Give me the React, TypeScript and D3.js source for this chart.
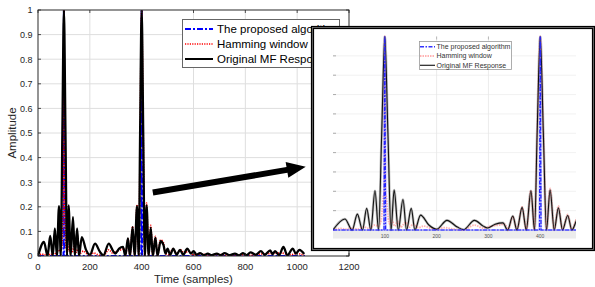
import React from "react";
import * as d3 from "d3";

// ---- data (samples, amplitude) ----
const origX = [0, 23, 37, 47, 57, 65, 73, 81, 88, 94, 100, 106, 112, 118, 126, 135, 142, 151, 158, 169, 185, 200, 220, 240, 252, 273, 290, 298, 313, 328, 337, 347, 355, 365, 373, 382, 389, 394, 400, 406, 412, 419, 427, 435, 443, 453, 461, 473, 484, 492, 500, 510, 522, 535, 548, 560, 576, 590, 600, 612, 625, 640, 655, 670, 690, 705, 720, 740, 760, 775, 790, 805, 820, 840, 860, 875, 896, 905, 915, 930, 947, 962, 983, 995, 1009, 1027];
const origY = [0, 0.057, 0, 0.082, 0, 0.112, 0, 0.203, 0, 0.5, 1, 0.5, 0, 0.206, 0, 0.158, 0, 0.112, 0, 0.077, 0.026, 0.004, 0.05, 0.015, 0.002, 0.05, 0.02, 0.01, 0.03, 0.037, 0, 0.072, 0, 0.117, 0, 0.203, 0, 0.5, 1, 0.5, 0, 0.206, 0, 0.115, 0, 0.075, 0, 0.06, 0.045, 0.01, 0.03, 0.005, 0.03, 0.005, 0.025, 0.005, 0.03, 0.01, 0.02, 0.005, 0.012, 0.003, 0.01, 0.003, 0.01, 0.003, 0.012, 0.003, 0.01, 0.002, 0.012, 0.003, 0.015, 0.005, 0.02, 0.005, 0.023, 0.008, 0.02, 0.003, 0.037, 0.003, 0.03, 0.01, 0.025, 0.008];

const hamX = [0, 15, 25, 35, 48, 60, 70, 80, 88, 93, 97, 99, 100, 101, 103, 107, 110, 114, 119, 125, 131, 140, 147, 155, 165, 175, 190, 200, 215, 230, 252, 273, 290, 305, 320, 332, 338, 347, 355, 365, 373, 382, 389, 394, 400, 406, 412, 419, 427, 435, 443, 453, 461, 472, 482, 492, 505, 520, 535, 550, 565, 580, 600, 630, 660, 700, 740, 780, 820, 860, 900, 940, 970, 1000, 1027];
const hamY = [0, 0.008, 0.004, 0.01, 0.005, 0.015, 0.008, 0.025, 0.02, 0.05, 0.17, 0.2, 1, 0.2, 0.17, 0.05, 0.03, 0.05, 0.02, 0.045, 0.015, 0.04, 0.015, 0.03, 0.012, 0.02, 0.008, 0.003, 0.012, 0.006, 0, 0.025, 0.01, 0.02, 0.025, 0.03, 0, 0.07, 0, 0.12, 0, 0.205, 0, 0.5, 1, 0.5, 0, 0.215, 0, 0.125, 0, 0.08, 0, 0.065, 0.06, 0.01, 0.005, 0.028, 0.01, 0.025, 0.012, 0.02, 0.005, 0.008, 0.003, 0.006, 0.002, 0.005, 0.003, 0.008, 0.01, 0.012, 0.005, 0.01, 0.003];

const propX = [0, 98.5, 100, 101.5, 398.5, 400, 401.5, 1030];
const propY = [0, 0, 1, 0, 0, 1, 0, 0];

const legendLabels = ["The proposed algorithm", "Hamming window", "Original MF Response"];
const mainXTicks = [0, 200, 400, 600, 800, 1000, 1200];
const mainYTicks = [0, 0.1, 0.2, 0.3, 0.4, 0.5, 0.6, 0.7, 0.8, 0.9, 1];
const insetXTicks = [100, 200, 300, 400];
const insetYTicks = [0.1, 0.2, 0.3, 0.4, 0.5, 0.6, 0.7, 0.8, 0.9];
const arrowFrom: [number, number] = [443, 0.258];
const arrowTo: [number, number] = [1033, 0.363];

const FONT = "'Liberation Sans', Arial, Helvetica, sans-serif";

function zip(xs: number[], ys: number[]): [number, number][] {
  return xs.map((x, i) => [x, ys[i]]);
}

export default function App() {
  const W = 595, H = 287;
  const xM = d3.scaleLinear().domain([0, 1200]).range([38, 349]);
  const yM = d3.scaleLinear().domain([0, 1]).range([256, 10]);
  const xI = d3.scaleLinear().domain([0, 469]).range([333, 576]);
  const yI = d3.scaleLinear().domain([0, 1]).range([230, 36.5]);

  const orig = zip(origX, origY);
  const ham = zip(hamX, hamY);
  const prop = zip(propX, propY);

  const smoothM = d3.line<[number, number]>().x(d => xM(d[0])).y(d => yM(d[1])).curve(d3.curveMonotoneX);
  const linM = d3.line<[number, number]>().x(d => xM(d[0])).y(d => yM(d[1]));
  const smoothI = d3.line<[number, number]>().x(d => xI(d[0])).y(d => yI(d[1])).curve(d3.curveMonotoneX);
  const linI = d3.line<[number, number]>().x(d => xI(d[0])).y(d => yI(d[1]));

  const ax0 = xM(arrowFrom[0]), ay0 = yM(arrowFrom[1]);
  const ax1 = xM(arrowTo[0]), ay1 = yM(arrowTo[1]);
  const ang = Math.atan2(ay1 - ay0, ax1 - ax0);
  const ux = Math.cos(ang), uy = Math.sin(ang);
  const px = -uy, py = ux;
  const headLen = 19, headHalf = 8, shaftHalf = 3;
  const bx = ax1 - ux * headLen, by = ay1 - uy * headLen;
  const arrowPts = [
    [ax0 + px * shaftHalf, ay0 + py * shaftHalf],
    [bx + px * shaftHalf, by + py * shaftHalf],
    [bx + px * headHalf, by + py * headHalf],
    [ax1, ay1],
    [bx - px * headHalf, by - py * headHalf],
    [bx - px * shaftHalf, by - py * shaftHalf],
    [ax0 - px * shaftHalf, ay0 - py * shaftHalf],
  ].map(p => p.join(",")).join(" ");

  const txt = "#262626";
  const legY = [29, 44, 59];
  const insLegY = [46.7, 56, 65.3];

  return (
    <svg width={W} height={H} style={{ position: "absolute", left: 0, top: 0, background: "#fff" }} fontFamily={FONT}>
      <defs>
        <clipPath id="mainClip">
          <rect x={38} y={10} width={311} height={246} />
        </clipPath>
        <clipPath id="insClip">
          <rect x={333} y={30} width={243} height={203} />
        </clipPath>
      </defs>
      <rect x={0} y={0} width={W} height={H} fill="#fff" />

      {mainXTicks.map(t => (
        <line key={"gx" + t} x1={xM(t)} x2={xM(t)} y1={10} y2={256} stroke="#dedede" strokeWidth={1} />
      ))}
      {mainYTicks.map(t => (
        <line key={"gy" + t} x1={38} x2={349} y1={yM(t)} y2={yM(t)} stroke="#dedede" strokeWidth={1} />
      ))}

      <g clipPath="url(#mainClip)">
        <path d={linM(prop) || ""} fill="none" stroke="#0000ff" strokeWidth={2} strokeDasharray="6,2,2,2" />
        <path d={smoothM(ham) || ""} fill="none" stroke="#ff0000" strokeWidth={1.6} strokeDasharray="1.2,1.2" />
        <path d={smoothM(orig) || ""} fill="none" stroke="#000" strokeWidth={2.3} strokeLinejoin="round" />
      </g>

      <rect x={38} y={10} width={311} height={246} fill="none" stroke="#262626" strokeWidth={0.9} />
      {mainXTicks.map(t => (
        <g key={"tx" + t}>
          <line x1={xM(t)} x2={xM(t)} y1={256} y2={253} stroke="#262626" strokeWidth={0.8} />
          <line x1={xM(t)} x2={xM(t)} y1={10} y2={13} stroke="#262626" strokeWidth={0.8} />
          <text x={xM(t)} y={270} fontSize={9.5} fill={txt} textAnchor="middle">{t}</text>
        </g>
      ))}
      {mainYTicks.map(t => (
        <g key={"ty" + t}>
          <line x1={38} x2={41} y1={yM(t)} y2={yM(t)} stroke="#262626" strokeWidth={0.8} />
          <line x1={349} x2={346} y1={yM(t)} y2={yM(t)} stroke="#262626" strokeWidth={0.8} />
          <text x={32.5} y={yM(t) + 3.3} fontSize={9} fill={txt} textAnchor="end">{String(t)}</text>
        </g>
      ))}
      <text x={193.5} y={283} fontSize={11.5} fill={txt} textAnchor="middle">Time (samples)</text>
      <text transform={`translate(16,133) rotate(-90)`} fontSize={11.5} fill={txt} textAnchor="middle">Amplitude</text>

      <rect x={182.5} y={19.5} width={157} height={48} fill="#fff" stroke="#666" strokeWidth={1} />
      <line x1={185} x2={213} y1={legY[0]} y2={legY[0]} stroke="#0000ff" strokeWidth={2} strokeDasharray="6,2,2,2" />
      <line x1={185} x2={213} y1={legY[1]} y2={legY[1]} stroke="#ff0000" strokeWidth={1.6} strokeDasharray="1.2,1.2" />
      <line x1={185} x2={213} y1={legY[2]} y2={legY[2]} stroke="#000" strokeWidth={2} />
      {legendLabels.map((l, i) => (
        <text key={l} x={217} y={legY[i] + 4} fontSize={11.5} fill="#000">{l}</text>
      ))}

      <polygon points={arrowPts} fill="#000" />

      <rect x={312.5} y={27.5} width={281} height={222} fill="#fff" stroke="#000" strokeWidth={3.2} />
      <rect x={312.5} y={27.5} width={281} height={222} fill="none" stroke="#777" strokeWidth={0.8} />
      <rect x={333} y={230} width={243} height={8.5} fill="#ececec" />
      {insetYTicks.map(t => (
        <g key={"iy" + t}>
          <line x1={333} x2={576} y1={yI(t)} y2={yI(t)} stroke="#eeeeee" strokeWidth={0.8} />
          <line x1={333} x2={336} y1={yI(t)} y2={yI(t)} stroke="#999" strokeWidth={0.8} />
        </g>
      ))}
      {insetXTicks.map(t => (
        <g key={"ix" + t}>
          <line x1={xI(t)} x2={xI(t)} y1={36.5} y2={230} stroke="#e6e6e6" strokeWidth={0.8} />
          <line x1={xI(t)} x2={xI(t)} y1={36.5} y2={39.5} stroke="#aaa" strokeWidth={0.8} />
          <text x={xI(t)} y={237.5} fontSize={5} fill="#555" textAnchor="middle">{t}</text>
        </g>
      ))}
      <g clipPath="url(#insClip)">
        <path d={smoothI(orig) || ""} fill="none" stroke="rgba(0,0,0,0.25)" strokeWidth={2.6} strokeLinejoin="round" />
        <path d={smoothI(ham) || ""} fill="none" stroke="rgba(255,120,120,0.55)" strokeWidth={1.8} strokeDasharray="1.5,1" />
        <path d={smoothI(orig) || ""} fill="none" stroke="#111" strokeWidth={1.1} strokeLinejoin="round" />
        <path d={linI(prop) || ""} fill="none" stroke="rgba(40,40,255,0.3)" strokeWidth={2.2} />
        <path d={linI(prop) || ""} fill="none" stroke="#2222ff" strokeWidth={1.2} strokeDasharray="4,1.5,1.5,1.5" />
      </g>

      <rect x={419.5} y={41.5} width={92} height={28} fill="#fff" stroke="#999" strokeWidth={0.8} />
      <line x1={420} x2={435} y1={insLegY[0]} y2={insLegY[0]} stroke="#3333ff" strokeWidth={1.4} strokeDasharray="4,1.5,1.5,1.5" />
      <line x1={420} x2={435} y1={insLegY[1]} y2={insLegY[1]} stroke="#ff9a9a" strokeWidth={1.4} strokeDasharray="1.5,1" />
      <line x1={420} x2={435} y1={insLegY[2]} y2={insLegY[2]} stroke="#222" strokeWidth={1.2} />
      {legendLabels.map((l, i) => (
        <text key={"il" + l} x={436.5} y={insLegY[i] + 2.4} fontSize={7} fill="#333">{l}</text>
      ))}
    </svg>
  );
}
